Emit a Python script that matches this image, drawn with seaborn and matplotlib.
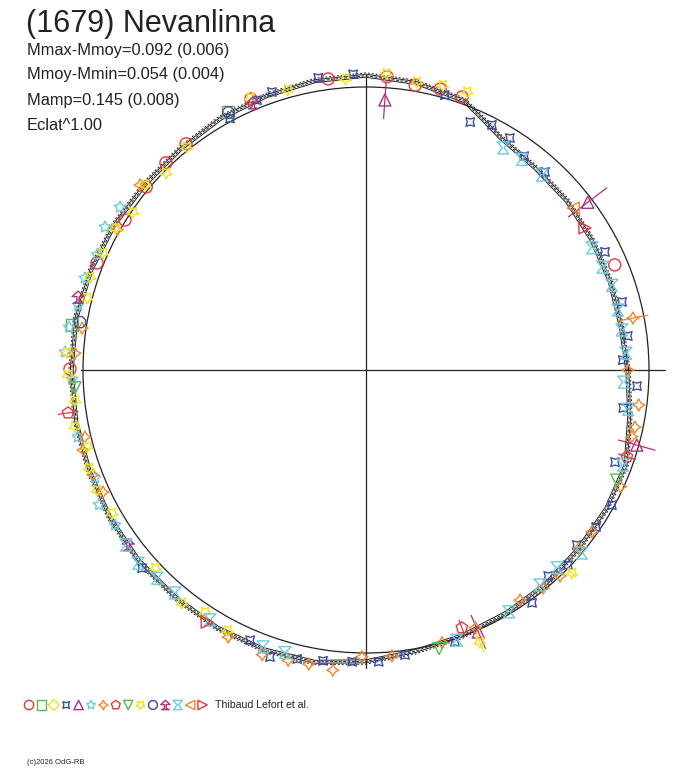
import matplotlib
matplotlib.use("Agg")
import matplotlib.pyplot as plt
import numpy as np
import seaborn as sns
from matplotlib.path import Path

# model lightcurve: radius vs phase angle (deg, counter-clockwise from +x)
model_phase = [0, 10, 20, 30, 40, 50, 60, 65, 70, 80, 90, 100, 110, 120, 130, 140, 150,
               160, 170, 180, 190, 200, 210, 220, 230, 240, 250, 260, 270, 280, 290,
               300, 310, 320, 330, 340, 350]
model_radius = [262, 259, 260, 261, 263, 264, 269, 277, 287, 292, 295, 294, 292, 291, 289,
                289, 291, 293, 295, 295, 295, 295, 296, 297, 297, 298, 298, 297, 292,
                286, 283, 281, 280, 278, 278, 277, 268]
ref_radius = 283

# observations, one pair of arrays per data set
red_circle_phase = [97.4, 85.9, 80.2, 75.2, 70.6, 22.9, 179.8, 158.3, 148.1, 140.2, 134, 128.5, 113]
red_circle_r = [293.5, 294, 289, 290.6, 289.4, 270, 296, 289.5, 283.9, 286, 288, 289, 294.4]

green_square_phase = [118.1, 171.3]
green_square_r = [292.6, 297]

blue_star4_phase = [99.3, 92.5, 74, 67.2, 62.8, 58.2, 53.5, 47.9, 26.3, 14.9, 7.4, 2.2, -3.4,
                    -8.4, -20.3, -28.8, -34.3, -39.7, -44, -48.5, -54.5, -71.9, -82.2, -87.5,
                    -92.7, -98.4, -103.4, -108.5, -113.2, -138.5, 118.4, 108.7, 112]
blue_star4_r = [296, 296, 286, 269, 275.5, 273, 266, 267, 266.6, 265, 264, 257, 271.5,
                260, 265.5, 280.6, 278.5, 274, 280.8, 275, 286, 286, 287.6, 292,
                292, 294, 297, 302.6, 294, 299, 286, 293.5, 291]

magenta_tri_phase = [86, 37.1, -15.5, -66.8]
magenta_tri_r = [270.7, 278, 281, 285]
magenta_tri_err = [18.5, 24, 19, 18]

cyan_star_phase = [167.3, 176.6, -178.2, -166.9, 161.9, 156.8, 151.3, 146.5, -153.2, -158.3,
                   -148.3, 171.8]
cyan_star_r = [295, 301.5, 294, 295.7, 295.7, 292.5, 297.6, 295, 299, 291.7, 295, 300]

orange_star4_phase = [11, 0, -7.3, -12, -14.1, -24.6, -35.6, -39.9, -46.7, -50.9, -56.2, -67,
                      -74.4, -84.8, -90.8, -96.3, -101, -105, -110, -117.3, -155.1, -159,
                      -164.2, -166.6, 176.7, 171.6, 150.6, 140.7]
orange_star4_r = [272, 262, 275, 275, 274, 280, 278, 277.6, 283, 281, 276.8, 280,
                  283, 287, 287, 302, 299.5, 300.6, 303, 300.5, 290, 292.5,
                  294, 289, 291.5, 287, 285.6, 292]
orange_star4_err = [15] + [0] * 27

red_pent_phase = [-171.8, -18.4, -69.6]
red_pent_r = [301, 275, 275]
red_pent_err = [10, 9, 8]

green_tri_phase = [-176.5, -23.7, -75.3]
green_tri_r = [291.6, 274, 288]

yellow_star_phase = [105.6, 94, 86, 80, 74.9, 70, -44.6, -67.3, -118, -123.6, -128.3, -136.8,
                     -150.6, -155.9, -160.5, -164.6, -169, -174, -179, 176.6, 165.5, 161.4,
                     156, 150.5, 145.9, 140, 135.4, 128.8, 113]
yellow_star_r = [291, 292, 297, 292.5, 295, 296, 289, 295, 295, 290.6, 297, 289,
                 291.5, 294.5, 293.8, 289, 296.5, 292.5, 298, 299.5, 288, 291,
                 288, 288, 281.5, 288, 280.7, 286, 295.7]
yellow_star_err = [0] * 6 + [6, 10] + [0] * 21

blue_oct_phase = [170.5, 118.1]
blue_oct_r = [290, 292]

magenta_tre_phase = [165.8, -143.7, 112.9]
magenta_tre_r = [297, 295, 290]

cyan_hour_phase = [58.3, 53.5, 47.9, 28.4, 23.5, 19, 13.4, 8.9, 3.7, -2.7, -8.5, -20.3, -40.3,
                   -46, -51, -59.4, -71.4, -106, -110.4, -122, -130.6, -135.1, -139.7, -143.9]
cyan_hour_r = [261, 262, 262.7, 257, 258, 260, 259, 259, 260.5, 258, 265, 274, 283,
               275, 276.6, 281, 285, 294, 295.5, 294.7, 293.6, 295, 298.7, 297]

orange_tril_phase = [38]
orange_tril_r = [263]

red_trir_phase = [33, -122.2]
red_trir_r = [261, 298]

title = "(1679) Nevanlinna"
stats = ["Mmax-Mmoy=0.092 (0.006)", "Mmoy-Mmin=0.054 (0.004)", "Mamp=0.145 (0.008)", "Eclat^1.00"]
legend_text = "Thibaud Lefort et al."
footer = "(c)2026 OdG-RB"

RED = "#e8383a"
GREEN = "#5cb84a"
YELLOW = "#f2e31a"
BLUE = "#3b4ea2"
MAGENTA = "#b0307e"
CYAN = "#6ccbe0"
ORANGE = "#f0862e"

hourglass = Path([(-1, 1), (1, 1), (0.15, 0.05), (0.9, -1), (-0.9, -1), (-0.15, 0.05), (-1, 1)],
                 [1, 2, 2, 2, 2, 2, 79])
trefoil = Path([(-1, 0.1), (0, 1), (1, 0.1), (0.2, 0.1), (0.2, -0.7), (0.8, -1), (-0.8, -1),
                (-0.2, -0.7), (-0.2, 0.1), (-1, 0.1)],
               [1, 2, 2, 2, 2, 2, 2, 2, 2, 79])

markers = ["o", "s", "D", (4, 1, 45), "^", (5, 1, 0), (4, 1, 0), "p", "v", (5, 1, 180),
           "8", trefoil, hourglass, "<", ">"]
colors = [RED, GREEN, YELLOW, BLUE, MAGENTA, CYAN, ORANGE, RED, GREEN, YELLOW,
          BLUE, MAGENTA, CYAN, ORANGE, RED]

series = [
    (0, red_circle_phase, red_circle_r, None),
    (1, green_square_phase, green_square_r, None),
    (3, blue_star4_phase, blue_star4_r, None),
    (4, magenta_tri_phase, magenta_tri_r, magenta_tri_err),
    (5, cyan_star_phase, cyan_star_r, None),
    (6, orange_star4_phase, orange_star4_r, orange_star4_err),
    (7, red_pent_phase, red_pent_r, red_pent_err),
    (8, green_tri_phase, green_tri_r, None),
    (9, yellow_star_phase, yellow_star_r, yellow_star_err),
    (10, blue_oct_phase, blue_oct_r, None),
    (11, magenta_tre_phase, magenta_tre_r, None),
    (12, cyan_hour_phase, cyan_hour_r, None),
    (13, orange_tril_phase, orange_tril_r, None),
    (14, red_trir_phase, red_trir_r, None),
]

sns.set_theme(style="white")
plt.rcParams["font.family"] = ["Liberation Sans", "DejaVu Sans"]

W, H = 688, 768
cx, cy = 366, 370
fig = plt.figure(figsize=(W / 100, H / 100), dpi=100)
ax = fig.add_axes([0, 0, 1, 1])
ax.set_xlim(-cx, W - cx)
ax.set_ylim(-(H - cy), cy)
ax.axis("off")


def to_xy(phase, r):
    t = np.radians(np.asarray(phase, dtype=float))
    r = np.asarray(r, dtype=float)
    return r * np.cos(t), r * np.sin(t)


# axes through the centre
ax.plot([-285, 299], [0, 0], color="#222222", lw=0.9)
ax.plot([0, 0], [-298, 295], color="#222222", lw=0.9)

# reference circle
ax.add_patch(plt.Circle((0, 0), ref_radius, fill=False, ec="#222222", lw=0.9))

# model curves (a few nearly identical solutions)
mp = model_phase + [model_phase[0] + 360]
mr = model_radius + [model_radius[0]]
for k, (off, ls) in enumerate([(-2.2, "-"), (-0.7, (0, (3, 1.5))), (0.8, "-"), (2.2, (0, (2, 2)))]):
    x, y = to_xy(mp, np.array(mr) + off)
    sns.lineplot(x=x, y=y, sort=False, estimator=None, color="#222222", lw=0.7,
                 linestyle=ls, ax=ax)

# observations
for idx, ph, rr, err in series:
    x, y = to_xy(ph, rr)
    if err is not None:
        for p, r, e in zip(ph, rr, err):
            if e > 0:
                ex, ey = to_xy([p, p], [r - e, r + e])
                ax.plot(ex, ey, color=colors[idx], lw=0.9)
    sns.scatterplot(x=x, y=y, marker=markers[idx], color=colors[idx], facecolor="none",
                    edgecolor=colors[idx], linewidth=1.0, s=75, ax=ax, zorder=3)

# legend row of symbols
for i, (m, c) in enumerate(zip(markers, colors)):
    size = 32 if m == "D" else 45
    ax.scatter(29 - cx + i * 12.4, cy - 705, marker=m, facecolor="none", edgecolor=c,
               linewidth=1.0, s=size, zorder=3)
fig.text(215 / W, 1 - 705 / H, legend_text, fontsize=7.6, color="#222222", va="center")

fig.text(26 / W, 1 - 9 / H, title, fontsize=22, color="#222222", va="top")
for i, s in enumerate(stats):
    fig.text(27 / W, 1 - (50 + 25 * i) / H, s, fontsize=11.8, color="#222222", va="center")
fig.text(27 / W, 1 - 762 / H, footer, fontsize=5.5, color="#222222", va="center")

fig.savefig("out.png", dpi=100)
